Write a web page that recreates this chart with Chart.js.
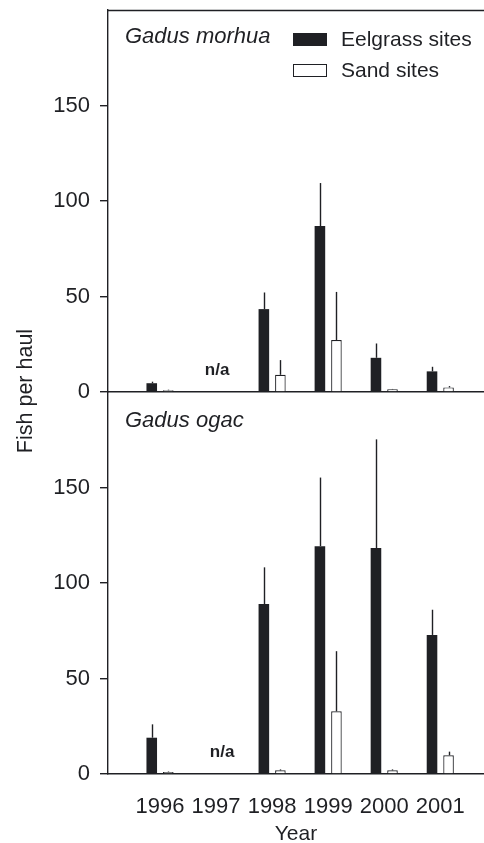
<!DOCTYPE html>
<html>
<head>
<meta charset="utf-8">
<script src="https://cdn.jsdelivr.net/npm/chart.js@4.4.1/dist/chart.umd.min.js"></script>
<style>
  html, body { margin: 0; padding: 0; background: #fff; }
  #wrap { position: relative; width: 484px; height: 843px; }
  #wrap canvas { position: absolute; left: 0; top: 0; }
</style>
</head>
<body>
<div id="wrap">
  <canvas id="morhua" width="484" height="843"></canvas>
  <canvas id="ogac" width="484" height="843"></canvas>
</div>
<script>
// --- data ---
const years = [1996, 1997, 1998, 1999, 2000, 2001];
const yTicks = [0, 50, 100, 150];
const missingYear = 1997; // not sampled -> "n/a"

// Gadus morhua, mean fish per haul and upper error
const morhuaEelgrass = [4.6, null, 43.4, 86.9, 17.9, 10.8];
const morhuaEelgrassErr = [0.8, null, 8.7, 22.5, 7.5, 2.4];
const morhuaSand = [0.9, null, 9.0, 27.2, 1.4, 2.4];
const morhuaSandErr = [0.3, null, 7.7, 25.2, 0.2, 0.7];

// Gadus ogac
const ogacEelgrass = [19.0, null, 89.0, 119.3, 118.3, 72.8];
const ogacEelgrassErr = [7.0, null, 19.2, 35.9, 56.9, 13.2];
const ogacSand = [1.0, null, 1.9, 32.8, 1.9, 9.8];
const ogacSandErr = [0.3, null, 0.5, 31.5, 0.5, 1.9];

const seriesNames = ["Eelgrass sites", "Sand sites"];

// --- look ---
const ink = "#1f2024";
const fontFamily = "'Liberation Sans', Arial, Helvetica, sans-serif";

// Error bars (upper only), drawn through the y scale
const errorBars = {
  id: "errorBars",
  afterDatasetsDraw(chart) {
    const ctx = chart.ctx;
    const yScale = chart.scales.y;
    ctx.save();
    ctx.strokeStyle = ink;
    ctx.lineWidth = 1.4;
    chart.data.datasets.forEach((ds, i) => {
      const meta = chart.getDatasetMeta(i);
      meta.data.forEach((bar, j) => {
        const v = ds.data[j];
        const e = ds.errors[j];
        if (v == null || !e) return;
        const x = Math.round(bar.x) + 0.5;
        ctx.beginPath();
        ctx.moveTo(x, yScale.getPixelForValue(v));
        ctx.lineTo(x, yScale.getPixelForValue(v + e));
        ctx.stroke();
      });
    });
    ctx.restore();
  }
};

// Species name, n/a marker, legend, frame, shared y title
const panelText = {
  id: "panelText",
  afterDraw(chart, args, opts) {
    const ctx = chart.ctx;
    const area = chart.chartArea;
    const xScale = chart.scales.x;
    const yScale = chart.scales.y;
    ctx.save();
    ctx.fillStyle = ink;
    ctx.strokeStyle = ink;

    // species
    ctx.font = "italic 22px " + fontFamily;
    ctx.textAlign = "left";
    ctx.textBaseline = "alphabetic";
    ctx.fillText(opts.species, area.left + 17, area.top + opts.speciesY);

    // n/a for the missing year
    ctx.font = "bold 17px " + fontFamily;
    ctx.textAlign = "center";
    ctx.textBaseline = "middle";
    ctx.fillText("n/a", xScale.getPixelForValue(missingYear) + opts.naShift, yScale.getPixelForValue(11.5));

    if (opts.frameTop) {
      ctx.lineWidth = 1.4;
      ctx.beginPath();
      ctx.moveTo(area.left, area.top + 0.5);
      ctx.lineTo(area.right, area.top + 0.5);
      ctx.stroke();
    }

    if (opts.legend) {
      const lx = area.left + 185;
      let ly = area.top + 23;
      ctx.font = "21px " + fontFamily;
      ctx.textAlign = "left";
      ctx.textBaseline = "middle";
      chart.data.datasets.forEach((ds) => {
        ctx.fillStyle = ds.backgroundColor;
        ctx.fillRect(lx, ly, 34, 13);
        ctx.lineWidth = 1;
        ctx.strokeRect(lx + 0.5, ly + 0.5, 33, 12);
        ctx.fillStyle = ink;
        ctx.fillText(ds.label, lx + 48, ly + 7.5);
        ly += 31;
      });
    }

    if (opts.yTitle) {
      ctx.font = "21.5px " + fontFamily;
      ctx.textAlign = "center";
      ctx.textBaseline = "middle";
      ctx.translate(26, area.top - 1);
      ctx.rotate(-Math.PI / 2);
      ctx.fillText(opts.yTitle, 0, 0);
    }
    ctx.restore();
  }
};

function buildConfig(eel, eelErr, sand, sandErr, panel, showYears) {
  return {
    type: "bar",
    data: {
      labels: years,
      datasets: [
        {
          label: seriesNames[0],
          data: eel,
          errors: eelErr,
          backgroundColor: ink,
          borderColor: ink,
          borderWidth: 0,
        },
        {
          label: seriesNames[1],
          data: sand,
          errors: sandErr,
          backgroundColor: "#ffffff",
          borderColor: ink,
          borderWidth: 1.2,
        },
      ],
    },
    options: {
      responsive: false,
      animation: false,
      events: [],
      categoryPercentage: 0.59,
      barPercentage: 0.64,
      layout: { padding: panel.padding },
      scales: {
        x: {
          type: "linear",
          offset: false,
          min: 1995.072,
          max: 2001.78,
          afterBuildTicks: (scale) => { scale.ticks = years.map(v => ({ value: v })); },
          afterFit: (scale) => {
            scale.height = showYears ? 69 : 0;
            scale.paddingLeft = 0;
            scale.paddingRight = 0;
          },
          grid: { display: false },
          border: { display: true, color: ink, width: 1.4 },
          ticks: {
            display: showYears,
            autoSkip: false,
            maxRotation: 0,
            padding: 12,
            color: ink,
            font: { family: fontFamily, size: 22 },
            callback: (v) => String(v),
          },
          title: {
            display: showYears,
            text: "Year",
            color: ink,
            padding: { top: 0, bottom: -2 },
            font: { family: fontFamily, size: 21, lineHeight: 1 },
          },
        },
        y: {
          min: 0,
          max: 200,
          afterBuildTicks: (scale) => { scale.ticks = yTicks.map(v => ({ value: v })); },
          afterFit: (scale) => {
            scale.width = 108;
            scale.paddingTop = 0;
            scale.paddingBottom = 0;
          },
          grid: { display: true, drawOnChartArea: false, drawTicks: true, tickLength: 8, color: ink, lineWidth: 1.4 },
          border: { display: true, color: ink, width: 1.4 },
          ticks: {
            padding: 10,
            color: ink,
            font: { family: fontFamily, size: 22 },
          },
        },
      },
      plugins: {
        legend: { display: false },
        tooltip: { enabled: false },
        panelText: panel,
      },
    },
    plugins: [errorBars, panelText],
  };
}

// --- charts ---
new Chart(document.getElementById("morhua"),
  buildConfig(morhuaEelgrass, morhuaEelgrassErr, morhuaSand, morhuaSandErr, {
    species: "Gadus morhua",
    speciesY: 33,
    naShift: 1,
    frameTop: true,
    legend: true,
    yTitle: "",
    padding: { top: 10, bottom: 451, left: 0, right: 0 },
  }, false));

new Chart(document.getElementById("ogac"),
  buildConfig(ogacEelgrass, ogacEelgrassErr, ogacSand, ogacSandErr, {
    species: "Gadus ogac",
    speciesY: 35,
    naShift: 6,
    frameTop: false,
    legend: false,
    yTitle: "Fish per haul",
    padding: { top: 392, bottom: 0, left: 0, right: 0 },
  }, true));
</script>
</body>
</html>
